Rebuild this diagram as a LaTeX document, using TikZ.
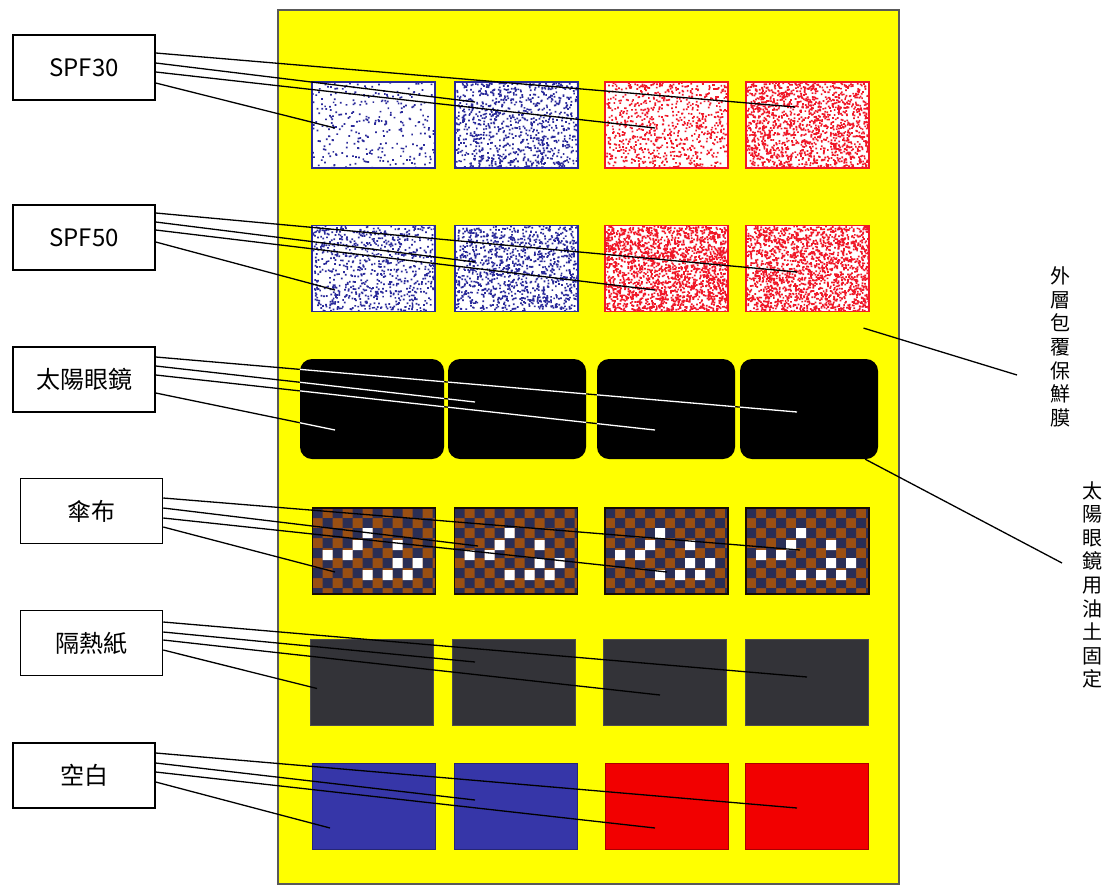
\documentclass[tikz,border=0pt]{standalone}
\usepackage{fontspec}
\setmainfont{Noto Sans CJK TC}
\usepackage{tikz}
\usetikzlibrary{calc}
\definecolor{bYellow}{HTML}{FFFF00}
\definecolor{dBlue}{HTML}{2A2A9A}
\definecolor{dRed}{HTML}{F01828}
\definecolor{cBrown}{HTML}{9A4F12}
\definecolor{cNavy}{HTML}{2A2E55}
\definecolor{pGrey}{HTML}{333338}
\definecolor{plBlue}{HTML}{3636A8}
\definecolor{plRed}{HTML}{F20000}
\tikzset{
  tag/.style={draw=black, line width=1.5pt, fill=white, minimum width=142pt,
    minimum height=65pt, inner sep=0pt, font=\fontsize{24}{28}\selectfont},
  sample/.style={minimum width=123pt, minimum height=86pt, inner sep=0pt},
  speckle/.style 2 args={sample, fill=white, draw=#1, line width=1.2pt,
    path picture={
      \coordinate (nw) at (path picture bounding box.north west);
      \fill[#1] \foreach \k in {1,...,#2} {($(nw)+(rnd*122,rnd*85)$) rectangle ++(1.7,1.7)};}},
  glass/.style={fill=black, rounded corners=12pt, minimum width=138pt,
    minimum height=100pt, inner sep=0pt},
  cloth/.style={sample, fill=cBrown, draw=black!85!cBrown, line width=1.2pt,
    path picture={
      \coordinate (nw) at (path picture bounding box.north west);
      \fill[cNavy] \foreach \i in {0,20,...,120} {\foreach \j in {0,20,...,80}
        {($(nw)+(\i,\j)$) rectangle ++(10,10) ($(nw)+(\i+10,\j+10)$) rectangle ++(10,10)}};
      \fill[white] \foreach \a/\b in {50/20,40/32,10/42,30/42,80/32,80/50,100/50,50/62,70/62,90/62}
        {($(nw)+(\a,\b)$) rectangle ++(10,10)};}},
  paper/.style={sample, fill=pGrey, draw=black!70, line width=1pt},
  plain/.style={sample, fill=#1, draw=#1!70!black, line width=1pt},
  note/.style={font=\fontsize{20}{23.6}\selectfont, align=center, inner sep=0pt},
  link/.style={line width=1.3pt, black},
}

\begin{document}
\begin{tikzpicture}[x=1pt, y=-1pt]
  \useasboundingbox (0,0) rectangle (1113,884);
  % board
  \fill[bYellow, draw=black!65, line width=1.2pt] (278,10) rectangle (899,884);

  % labels
  \node[tag] (s30) at (84,67.5) {SPF30};
  \node[tag] (s50) at (84,237.5) {SPF50};
  \node[tag] (shade) at (84,379.5) {太陽眼鏡};
  \node[tag] (cloth) at (91.5,511) {傘布};
  \node[tag] (film) at (91.5,643) {隔熱紙};
  \node[tag] (blank) at (84,775.5) {空白};

  % samples
  \pgfmathsetseed{7}
  \node[speckle={dBlue}{300}] (r1c1) at (373.5,125) {};
  \node[speckle={dBlue}{900}] (r1c2) at (516.5,125) {};
  \node[speckle={dRed}{800}] (r1c3) at (666.5,125) {};
  \node[speckle={dRed}{1500}] (r1c4) at (807.5,125) {};
  \node[speckle={dBlue}{800}] (r2c1) at (373.5,268.5) {};
  \node[speckle={dBlue}{1100}] (r2c2) at (516.5,268.5) {};
  \node[speckle={dRed}{2000}] (r2c3) at (666.5,268.5) {};
  \node[speckle={dRed}{1800}] (r2c4) at (807.5,268.5) {};
  \node[glass, minimum width=144pt] (r3c1) at (372,409) {};
  \node[glass] (r3c2) at (517,409) {};
  \node[glass] (r3c3) at (666,409) {};
  \node[glass] (r3c4) at (809,409) {};
  \node[cloth] (r4c1) at (374,551) {};
  \node[cloth] (r4c2) at (516,551) {};
  \node[cloth] (r4c3) at (666.5,551) {};
  \node[cloth] (r4c4) at (807.5,551) {};
  \node[paper] (r5c1) at (372,682.5) {};
  \node[paper] (r5c2) at (514,682.5) {};
  \node[paper] (r5c3) at (664.5,682.5) {};
  \node[paper] (r5c4) at (807,682.5) {};
  \node[plain=plBlue] (r6c1) at (373.5,806) {};
  \node[plain=plBlue] (r6c2) at (516,806) {};
  \node[plain=plRed] (r6c3) at (666.5,806) {};
  \node[plain=plRed] (r6c4) at (807,806) {};

  % notes on the right
  \node[note] (wrap) at (1060,347) {外\\層\\包\\覆\\保\\鮮\\膜};
  \node[note] (glue) at (1092,585) {太\\陽\\眼\\鏡\\用\\油\\土\\固\\定};
  \coordinate (wrapend) at (1017,375);
  \coordinate (glueend) at (1062,563);

  % connectors
  \draw[link] ([shift={(0,-14.5)}]s30.east) -- ([shift={(-12.5,-18)}]r1c4.center);
  \draw[link] ([shift={(0,-4.5)}]s30.east) -- ([shift={(-41.5,-23)}]r1c2.center);
  \draw[link] ([shift={(0,4.5)}]s30.east) -- ([shift={(-11.5,3)}]r1c3.center);
  \draw[link] ([shift={(0,15.5)}]s30.east) -- ([shift={(-38.5,3)}]r1c1.center);

  \draw[link] ([shift={(0,-24.5)}]s50.east) -- ([shift={(-10.5,3.5)}]r2c4.center);
  \draw[link] ([shift={(0,-15.5)}]s50.east) -- ([shift={(-41.5,-6.5)}]r2c2.center);
  \draw[link] ([shift={(0,-7.5)}]s50.east) -- ([shift={(-11.5,21.5)}]r2c3.center);
  \draw[link] ([shift={(0,4.5)}]s50.east) -- ([shift={(-38.5,21.5)}]r2c1.center);

  % sunglasses: black over yellow, white over the lenses
  \foreach \c in {black, white} {
    \begin{scope}
      \ifnum\pdfstrcmp{\c}{white}=0
        \clip (r3c1.north west) rectangle (r3c1.south east)
              (r3c2.north west) rectangle (r3c2.south east)
              (r3c3.north west) rectangle (r3c3.south east)
              (r3c4.north west) rectangle (r3c4.south east);
      \fi
      \draw[link, draw=\c] ([shift={(0,-22.5)}]shade.east) -- ([shift={(-12,3)}]r3c4.center);
      \draw[link, draw=\c] ([shift={(0,-13.5)}]shade.east) -- ([shift={(-42,-7)}]r3c2.center);
      \draw[link, draw=\c] ([shift={(0,-4.5)}]shade.east) -- ([shift={(-11,21)}]r3c3.center);
      \draw[link, draw=\c] ([shift={(0,13.5)}]shade.east) -- ([shift={(-37,21)}]r3c1.center);
    \end{scope}
  }

  \draw[link] ([shift={(0,-13)}]cloth.east) -- ([shift={(-7.5,-1)}]r4c4.center);
  \draw[link] ([shift={(0,-3)}]cloth.east) -- ([shift={(-38,-5)}]r4c2.center);
  \draw[link] ([shift={(0,7)}]cloth.east) -- ([shift={(0.5,21)}]r4c3.center);
  \draw[link] ([shift={(0,16)}]cloth.east) -- ([shift={(-39,21)}]r4c1.center);

  \draw[link] ([shift={(0,-21)}]film.east) -- ([shift={(0,-5.5)}]r5c4.center);
  \draw[link] ([shift={(0,-11)}]film.east) -- ([shift={(-39,-20.5)}]r5c2.center);
  \draw[link] ([shift={(0,-3)}]film.east) -- ([shift={(-4.5,12.5)}]r5c3.center);
  \draw[link] ([shift={(0,7)}]film.east) -- ([shift={(-55,6)}]r5c1.center);

  \draw[link] ([shift={(0,-22.5)}]blank.east) -- ([shift={(-10,2)}]r6c4.center);
  \draw[link] ([shift={(0,-12.5)}]blank.east) -- ([shift={(-41,-6)}]r6c2.center);
  \draw[link] ([shift={(0,-3.5)}]blank.east) -- ([shift={(-11.5,22)}]r6c3.center);
  \draw[link] ([shift={(0,6.5)}]blank.east) -- ([shift={(-43.5,22)}]r6c1.center);

  \draw[link] ([shift={(-6,16)}]r2c4.south east) -- (wrapend);
  \draw[link] ([shift={(-13,0)}]r3c4.south east) -- (glueend);
\end{tikzpicture}
\end{document}
